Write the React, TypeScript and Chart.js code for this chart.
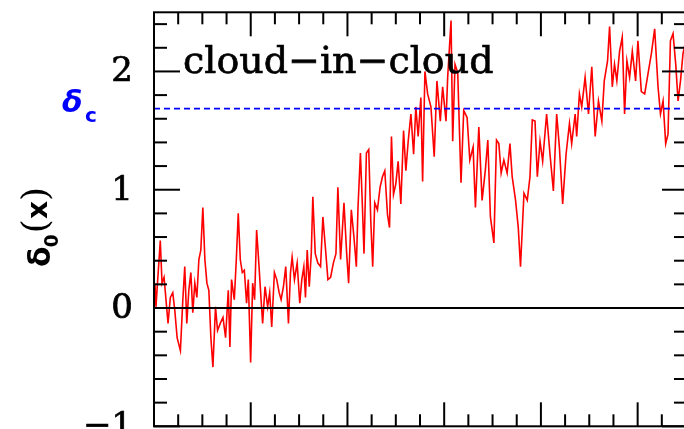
import React, { useEffect, useRef } from "react";
import { Chart, registerables } from "chart.js";
Chart.register(...registerables);

// Random walk delta_0(x): abscissa and value
const XS = [
  0, 0.01, 0.02, 0.04, 0.065, 0.083, 0.104, 0.124, 0.145, 0.169, 0.194, 0.215, 0.239, 0.273, 0.298, 0.318, 0.339, 0.36, 0.381, 0.401, 0.422, 0.443, 0.464, 0.484, 0.505, 0.526, 0.547, 0.567, 0.588, 0.609, 0.636, 0.657, 0.685, 0.713, 0.74, 0.768,
  0.785, 0.802, 0.83, 0.851, 0.871, 0.892, 0.913, 0.934, 0.957, 0.975, 0.999, 1.02, 1.04, 1.061, 1.086, 1.107, 1.123, 1.148, 1.175, 1.196, 1.217, 1.245, 1.269, 1.294, 1.314, 1.338, 1.362, 1.39, 1.411, 1.428, 1.452, 1.48, 1.507, 1.528, 1.549,
  1.566, 1.584, 1.605, 1.626, 1.642, 1.667, 1.694, 1.722, 1.746, 1.771, 1.798, 1.826, 1.854, 1.881, 1.901, 1.929, 1.964, 1.992, 2.012, 2.04, 2.067, 2.092, 2.109, 2.134, 2.155, 2.171, 2.196, 2.22, 2.241, 2.261, 2.282, 2.31, 2.337,
  2.362, 2.386, 2.414, 2.435, 2.455, 2.476, 2.5, 2.524, 2.552, 2.58, 2.604, 2.628, 2.656, 2.684, 2.707, 2.731, 2.759, 2.777, 2.801, 2.829, 2.863, 2.897, 2.925, 2.96, 2.984, 3.019, 3.036, 3.071, 3.088, 3.112,
  3.14, 3.174, 3.202, 3.237, 3.265, 3.299, 3.323, 3.358, 3.392, 3.426, 3.451, 3.478, 3.514, 3.541, 3.565, 3.589, 3.617, 3.651, 3.68, 3.703, 3.738, 3.766, 3.789, 3.825, 3.859, 3.887, 3.911,
  3.939, 3.963, 3.991, 4.018, 4.059, 4.094, 4.129, 4.163, 4.191, 4.225, 4.26, 4.295, 4.318, 4.354, 4.37, 4.398, 4.422, 4.457, 4.492, 4.526, 4.561, 4.595, 4.63, 4.655, 4.689, 4.71,
  4.738, 4.761, 4.785, 4.813, 4.841, 4.865, 4.889, 4.917, 4.945, 4.979, 5.003, 5.038, 5.073, 5.107, 5.142, 5.176, 5.211, 5.236, 5.263, 5.29, 5.314, 5.339, 5.366, 5.394, 5.418, 5.443, 5.469, 5.49,
];
const YS = [
  0.05, 0.21, 0.01, 0.26, 0.57, 0.21, 0.26, 0.07, -0.13, 0.09, 0.13, -0.02, -0.25, -0.36, 0.07, 0.35, -0.13, 0.15, 0.3, -0.04, 0.21, 0.09, 0.41, 0.49, 0.85, 0.41, 0.21, 0.15, -0.25, -0.5, 0.01, -0.19, -0.13, -0.08, -0.25, 0.15,
  -0.33, 0.24, 0.07, 0.41, 0.8, 0.41, 0.3, 0.32, 0.04, 0.24, -0.46, 0.21, 0.07, 0.66, 0.35, 0.07, -0.13, 0.18, 0.01, 0.13, -0.16, 0.3, 0.24, 0.13, 0.07, 0.18, 0.35, -0.13, 0.3, 0.43, 0.24, 0.38, 0.04, 0.24, 0.35,
  0.09, 0.49, 0.18, 0.46, 0.94, 0.46, 0.38, 0.35, 0.77, 0.52, 0.24, 0.26, 0.38, 0.46, 1.02, 0.41, 0.89, 0.46, 0.21, 0.83, 0.6, 0.35, 0.85, 1.31, 0.85, 0.46, 1.31, 1.34, 0.74, 0.35, 0.89, 0.83, 1.02,
  1.11, 1.16, 0.79, 0.68, 1.45, 0.96, 1.05, 1.24, 0.88, 1.5, 1.16, 1.41, 1.64, 1.3, 1.7, 1.45, 1.78, 1.07, 2.0, 1.81, 1.7, 1.28, 1.92, 1.58, 1.87, 1.58, 1.95, 2.43, 1.41, 2.06,
  1.99, 1.06, 1.67, 1.61, 1.25, 1.36, 0.85, 1.53, 0.91, 1.17, 1.42, 0.77, 0.55, 1.42, 1.39, 1.14, 1.25, 1.14, 1.39, 1.11, 0.91, 0.68, 0.35, 0.97, 0.91, 1.11, 1.59,
  1.58, 1.11, 1.41, 1.24, 1.64, 1.3, 0.99, 1.64, 1.36, 0.88, 1.3, 1.56, 1.39, 1.64, 1.45, 1.81, 1.7, 1.95, 1.64, 2.04, 1.45, 1.75, 1.58, 1.92, 2.09, 2.38,
  1.87, 2.06, 1.92, 2.17, 2.29, 1.64, 2.09, 1.95, 2.17, 1.92, 2.26, 1.83, 1.81, 1.98, 2.15, 2.36, 1.87, 1.64, 1.75, 1.39, 1.47, 2.26, 2.32, 2.06, 1.75, 1.92, 2.15, 2.23,
];

const DELTA_C = 1.686;
const X_MIN = 0;
const X_MAX = 5.5;
const Y_MIN = -1;
const Y_MAX = 2.5;
const Y_TICKS = [-1, 0, 1, 2];
const Y_TICK_LABELS = ["\u22121", "0", "1", "2"];
const Y_MINOR = [-0.8, -0.6, -0.4, -0.2, 0.2, 0.4, 0.6, 0.8, 1.2, 1.4, 1.6, 1.8, 2.2, 2.4];
const X_MAJOR = [0, 1, 2, 3, 4, 5];
const X_MINOR = [0.25, 0.5, 0.75, 1.25, 1.5, 1.75, 2.25, 2.5, 2.75, 3.25, 3.5, 3.75, 4.25, 4.5, 4.75, 5.25];
const LABEL = "cloud\u2212in\u2212cloud";

const W = 700;
const H = 445;

const framePlugin = {
  id: "frame",
  afterDatasetsDraw(chart: any) {
    const { ctx, chartArea: a, scales } = chart;
    const xs = scales.x;
    const ys = scales.y;
    ctx.save();
    ctx.strokeStyle = "#000";
    ctx.lineWidth = 2;
    ctx.strokeRect(a.left, a.top, a.right - a.left, a.bottom - a.top);
    const seg = (x1: number, y1: number, x2: number, y2: number) => {
      ctx.beginPath();
      ctx.moveTo(x1, y1);
      ctx.lineTo(x2, y2);
      ctx.stroke();
    };
    X_MAJOR.forEach((v) => {
      const p = xs.getPixelForValue(v);
      seg(p, a.bottom, p, a.bottom - 24);
      seg(p, a.top, p, a.top + 24);
    });
    X_MINOR.forEach((v) => {
      const p = xs.getPixelForValue(v);
      seg(p, a.bottom, p, a.bottom - 12);
      seg(p, a.top, p, a.top + 12);
    });
    Y_TICKS.forEach((v) => {
      const p = ys.getPixelForValue(v);
      seg(a.left, p, a.left + 26, p);
      seg(a.right, p, a.right - 24, p);
    });
    Y_MINOR.forEach((v) => {
      const p = ys.getPixelForValue(v);
      seg(a.left, p, a.left + 13, p);
      seg(a.right, p, a.right - 12, p);
    });

    // y tick labels
    ctx.fillStyle = "#000";
    ctx.lineWidth = 0.7;
    ctx.font = '34px "DejaVu Serif"';
    ctx.textAlign = "right";
    ctx.textBaseline = "middle";
    Y_TICKS.forEach((v, i) => {
      const p = ys.getPixelForValue(v) + 1;
      ctx.fillText(Y_TICK_LABELS[i], a.left - 21, p);
      ctx.strokeText(Y_TICK_LABELS[i], a.left - 21, p);
    });

    // annotation text
    ctx.font = '38px "DejaVu Serif"';
    ctx.textBaseline = "alphabetic";
    ctx.textAlign = "left";
    ctx.fillText(LABEL, a.left + 29, ys.getPixelForValue(2) + 2);
    ctx.strokeText(LABEL, a.left + 29, ys.getPixelForValue(2) + 2);

    // delta_c label
    const yc = ys.getPixelForValue(DELTA_C);
    ctx.fillStyle = "#0000ff";
    ctx.font = 'italic bold 30px "DejaVu Sans"';
    ctx.fillText("\u03b4", 62, yc + 3);
    ctx.font = 'bold 20px "DejaVu Sans"';
    ctx.fillText("c", 85, yc + 13);

    // y-axis title delta_0(x)
    ctx.fillStyle = "#000";
    ctx.translate(50, 222);
    ctx.rotate(-Math.PI / 2);
    let cx = -45;
    ctx.font = 'bold 30px "DejaVu Sans"';
    ctx.fillText("\u03b4", cx, 0);
    cx += ctx.measureText("\u03b4").width;
    ctx.font = 'bold 19px "DejaVu Sans"';
    ctx.fillText("0", cx - 1, 8);
    cx += ctx.measureText("0").width;
    ctx.font = '36px "DejaVu Serif"';
    ctx.fillText("(", cx, -3);
    cx += ctx.measureText("(").width;
    ctx.font = 'bold 28px "DejaVu Sans"';
    ctx.fillText("x", cx, -3);
    cx += ctx.measureText("x").width;
    ctx.font = '36px "DejaVu Serif"';
    ctx.fillText(")", cx, -3);
    ctx.restore();
  },
};

export default function App() {
  const ref = useRef<HTMLCanvasElement | null>(null);
  useEffect(() => {
    if (!ref.current) return;
    const walk = XS.map((x, i) => ({ x, y: YS[i] }));
    const chart = new Chart(ref.current, {
      type: "line",
      data: {
        datasets: [
          {
            data: [
              { x: X_MIN, y: DELTA_C },
              { x: X_MAX, y: DELTA_C },
            ],
            borderColor: "#0000ff",
            borderWidth: 1.6,
            borderDash: [6, 4],
            pointRadius: 0,
          },
          {
            data: [
              { x: X_MIN, y: 0 },
              { x: X_MAX, y: 0 },
            ],
            borderColor: "#000",
            borderWidth: 2,
            pointRadius: 0,
          },
          {
            data: walk,
            borderColor: "#ff0000",
            borderWidth: 1.6,
            pointRadius: 0,
            tension: 0,
          },
        ],
      },
      options: {
        animation: false,
        responsive: false,
        events: [],
        layout: { padding: { left: 0, top: 12.3, right: W - 686, bottom: H - 426.3 } },
        plugins: { legend: { display: false }, tooltip: { enabled: false } },
        scales: {
          x: { type: "linear", min: X_MIN, max: X_MAX, display: false },
          y: {
            type: "linear",
            min: Y_MIN,
            max: Y_MAX,
            afterFit: (s: any) => {
              s.width = 154;
            },
            grid: { display: false, drawTicks: false },
            border: { display: false },
            ticks: { display: false },
          },
        },
      },
      plugins: [framePlugin],
    });
    return () => chart.destroy();
  }, []);
  return (
    <div style={{ position: "fixed", left: 0, top: 0 }}>
      <canvas ref={ref} width={W} height={H} style={{ width: W, height: H, display: "block" }} />
    </div>
  );
}
